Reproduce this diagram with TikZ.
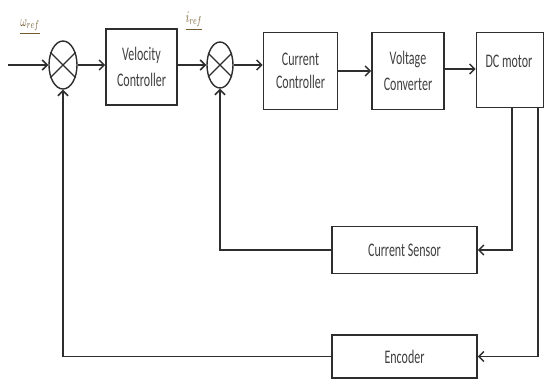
\documentclass[tikz,border=0pt]{standalone}
\usepackage{fontspec}
\usepackage{graphicx}
\setmainfont{Carlito}
\usetikzlibrary{arrows.meta,shapes.geometric}
\newcommand{\st}[1]{\scalebox{1}[1.6]{#1}}
\definecolor{txt}{rgb}{0.25,0.25,0.25}
\definecolor{lbl}{rgb}{0.45,0.36,0.18}
\definecolor{ln}{rgb}{0.18,0.18,0.18}
\tikzset{
  blk/.style={draw=ln, line width=1.6pt, rectangle, inner sep=0pt, align=center,
    font=\fontsize{12}{14}\selectfont, text=txt},
  summ/.style={draw=ln, line width=1.4pt, ellipse, inner sep=0pt},
  conn/.style={draw=ln, line width=1.5pt},
  arr/.style={conn, -{Straight Barb[length=5pt,width=10pt]}},
}
\begin{document}
\begin{tikzpicture}[x=1pt,y=-1pt]
\useasboundingbox (0,0) rectangle (545,381);
\fill[white] (0,0) rectangle (545,381);
% blocks
\node[blk, minimum width=71pt, minimum height=76pt] (vc) at (141.5,67) {\st{Velocity}\\[9pt]\st{Controller}};
\node[blk, minimum width=74pt, minimum height=77pt] (cc) at (300.5,71) {\st{Current}\\[9pt]\st{Controller}};
\node[blk, minimum width=72pt, minimum height=77pt] (vcv) at (408,71) {\st{Voltage}\\[9pt]\st{Converter}};
\node[blk, minimum width=67pt, minimum height=75pt] (dc) at (510,70) {};
\node[font=\fontsize{12}{14}\selectfont, text=txt, inner sep=0pt] (dct) at (509,61) {\st{DC motor}};
\node[blk, minimum width=145pt, minimum height=47pt] (cs) at (404.5,250) {\st{Current Sensor}};
\node[blk, minimum width=145pt, minimum height=43pt] (enc) at (404.5,356.5) {\st{Encoder}};
% summing junctions
\node[summ, minimum width=28pt, minimum height=48pt] (s1) at (63,65) {};
\node[summ, minimum width=26pt, minimum height=46pt] (s2) at (220,65) {};
\foreach \s in {s1,s2}{
  \draw[ln, line width=1.2pt] (\s.45) -- (\s.225);
  \draw[ln, line width=1.2pt] (\s.135) -- (\s.315);
}
% labels
\node[text=lbl, inner sep=0pt] (wref) at (30,27) {\st{\underline{$\omega_{ref}$}}};
\node[text=lbl, inner sep=0pt] (iref) at (194,21) {\st{\underline{$i_{ref}$}}};
% connectors
\coordinate (in) at (8,65);
\draw[arr] (in) -- (s1.west);
\draw[arr] (s1.east) -- (vc.west |- s1.east);
\draw[arr] (vc.east |- s2.west) -- (s2.west);
\draw[arr] (s2.east) -- (cc.west |- s2.east);
\draw[arr] (cc.east) -- (vcv.west);
\draw[arr] (vcv.east |- 0,69) -- (dc.west |- 0,69);
\coordinate (d1) at (512,0);
\coordinate (d2) at (538,0);
\draw[arr] (d1 |- dc.south) -- (d1 |- cs.east) -- (cs.east);
\draw[arr] (d2 |- dc.south) -- (d2 |- enc.east) -- (enc.east);
\draw[arr] (cs.west) -- (s2.south |- cs.west) -- (s2.south);
\draw[arr] (enc.west) -- (s1.south |- enc.west) -- (s1.south);
\end{tikzpicture}
\end{document}
